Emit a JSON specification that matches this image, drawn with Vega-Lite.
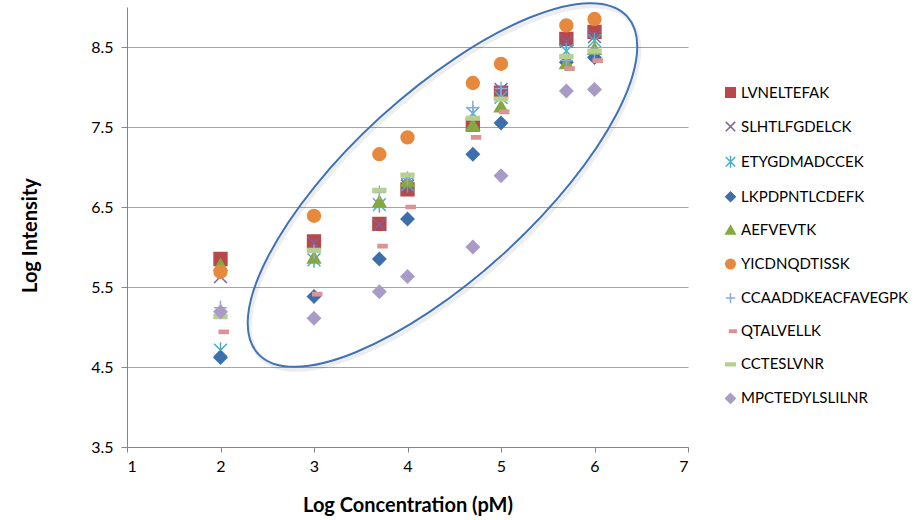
{
  "$schema": "https://vega.github.io/schema/vega-lite/v6.json",
  "width": 561,
  "height": 440,
  "autosize": {"type": "none"},
  "padding": {"left": 127, "top": 7, "right": 231, "bottom": 73},
  "background": "white",
  "config": {"view": {"stroke": null}, "font": "Lato"},
  "datasets": {
    "ellipse": [
      {"i": 1, "x": 6.349, "y": 8.883},
      {"i": 2, "x": 6.452, "y": 8.398},
      {"i": 3, "x": 6.238, "y": 7.665},
      {"i": 4, "x": 5.742, "y": 6.798},
      {"i": 5, "x": 5.037, "y": 5.926},
      {"i": 6, "x": 4.232, "y": 5.185},
      {"i": 7, "x": 3.447, "y": 4.685},
      {"i": 8, "x": 2.803, "y": 4.503},
      {"i": 9, "x": 2.4, "y": 4.668},
      {"i": 10, "x": 2.296, "y": 5.153},
      {"i": 11, "x": 2.51, "y": 5.885},
      {"i": 12, "x": 3.006, "y": 6.753},
      {"i": 13, "x": 3.711, "y": 7.624},
      {"i": 14, "x": 4.517, "y": 8.365},
      {"i": 15, "x": 5.302, "y": 8.865},
      {"i": 16, "x": 5.945, "y": 9.048}
    ],
    "pts": [
      {"peptide": "LVNELTEFAK", "x": 2, "y": 5.85},
      {"peptide": "LVNELTEFAK", "x": 3, "y": 6.07},
      {"peptide": "LVNELTEFAK", "x": 3.699, "y": 6.29},
      {"peptide": "LVNELTEFAK", "x": 4, "y": 6.72},
      {"peptide": "LVNELTEFAK", "x": 4.699, "y": 7.53},
      {"peptide": "LVNELTEFAK", "x": 5, "y": 7.93},
      {"peptide": "LVNELTEFAK", "x": 5.699, "y": 8.6},
      {"peptide": "LVNELTEFAK", "x": 6, "y": 8.69},
      {"peptide": "SLHTLFGDELCK", "x": 2, "y": 5.63},
      {"peptide": "SLHTLFGDELCK", "x": 3, "y": 6.05},
      {"peptide": "SLHTLFGDELCK", "x": 3.699, "y": 6.28},
      {"peptide": "SLHTLFGDELCK", "x": 4, "y": 6.76},
      {"peptide": "SLHTLFGDELCK", "x": 4.699, "y": 7.55},
      {"peptide": "SLHTLFGDELCK", "x": 5, "y": 7.97},
      {"peptide": "SLHTLFGDELCK", "x": 5.699, "y": 8.57},
      {"peptide": "SLHTLFGDELCK", "x": 6, "y": 8.63},
      {"peptide": "ETYGDMADCCEK", "x": 2, "y": 4.71},
      {"peptide": "ETYGDMADCCEK", "x": 3, "y": 5.84},
      {"peptide": "ETYGDMADCCEK", "x": 3.699, "y": 6.53},
      {"peptide": "ETYGDMADCCEK", "x": 4, "y": 6.78},
      {"peptide": "ETYGDMADCCEK", "x": 4.699, "y": 7.67},
      {"peptide": "ETYGDMADCCEK", "x": 5, "y": 7.87},
      {"peptide": "ETYGDMADCCEK", "x": 5.699, "y": 8.45},
      {"peptide": "ETYGDMADCCEK", "x": 6, "y": 8.58},
      {"peptide": "LKPDPNTLCDEFK", "x": 2, "y": 4.62},
      {"peptide": "LKPDPNTLCDEFK", "x": 3, "y": 5.38},
      {"peptide": "LKPDPNTLCDEFK", "x": 3.699, "y": 5.85},
      {"peptide": "LKPDPNTLCDEFK", "x": 4, "y": 6.35},
      {"peptide": "LKPDPNTLCDEFK", "x": 4.699, "y": 7.16},
      {"peptide": "LKPDPNTLCDEFK", "x": 5, "y": 7.55},
      {"peptide": "LKPDPNTLCDEFK", "x": 5.699, "y": 8.31},
      {"peptide": "LKPDPNTLCDEFK", "x": 6, "y": 8.37},
      {"peptide": "AEFVEVTK", "x": 2, "y": 5.78},
      {"peptide": "AEFVEVTK", "x": 3, "y": 5.87},
      {"peptide": "AEFVEVTK", "x": 3.699, "y": 6.57},
      {"peptide": "AEFVEVTK", "x": 4, "y": 6.83},
      {"peptide": "AEFVEVTK", "x": 4.699, "y": 7.53},
      {"peptide": "AEFVEVTK", "x": 5, "y": 7.76},
      {"peptide": "AEFVEVTK", "x": 5.699, "y": 8.3},
      {"peptide": "AEFVEVTK", "x": 6, "y": 8.48},
      {"peptide": "YICDNQDTISSK", "x": 2, "y": 5.69},
      {"peptide": "YICDNQDTISSK", "x": 3, "y": 6.39},
      {"peptide": "YICDNQDTISSK", "x": 3.699, "y": 7.16},
      {"peptide": "YICDNQDTISSK", "x": 4, "y": 7.37},
      {"peptide": "YICDNQDTISSK", "x": 4.699, "y": 8.05},
      {"peptide": "YICDNQDTISSK", "x": 5, "y": 8.29},
      {"peptide": "YICDNQDTISSK", "x": 5.699, "y": 8.77},
      {"peptide": "YICDNQDTISSK", "x": 6, "y": 8.85},
      {"peptide": "CCAADDKEACFAVEGPK", "x": 2, "y": 5.24},
      {"peptide": "CCAADDKEACFAVEGPK", "x": 3, "y": 5.94},
      {"peptide": "CCAADDKEACFAVEGPK", "x": 3.699, "y": 6.68},
      {"peptide": "CCAADDKEACFAVEGPK", "x": 4, "y": 6.86},
      {"peptide": "CCAADDKEACFAVEGPK", "x": 4.699, "y": 7.74},
      {"peptide": "CCAADDKEACFAVEGPK", "x": 5, "y": 7.98},
      {"peptide": "CCAADDKEACFAVEGPK", "x": 5.699, "y": 8.33},
      {"peptide": "CCAADDKEACFAVEGPK", "x": 6, "y": 8.42},
      {"peptide": "QTALVELLK", "x": 2, "y": 4.94},
      {"peptide": "QTALVELLK", "x": 3, "y": 5.41},
      {"peptide": "QTALVELLK", "x": 3.699, "y": 6.01},
      {"peptide": "QTALVELLK", "x": 4, "y": 6.5},
      {"peptide": "QTALVELLK", "x": 4.699, "y": 7.37},
      {"peptide": "QTALVELLK", "x": 5, "y": 7.69},
      {"peptide": "QTALVELLK", "x": 5.699, "y": 8.23},
      {"peptide": "QTALVELLK", "x": 6, "y": 8.33},
      {"peptide": "CCTESLVNR", "x": 2, "y": 5.13},
      {"peptide": "CCTESLVNR", "x": 3, "y": 5.96},
      {"peptide": "CCTESLVNR", "x": 3.699, "y": 6.71},
      {"peptide": "CCTESLVNR", "x": 4, "y": 6.9},
      {"peptide": "CCTESLVNR", "x": 4.699, "y": 7.61},
      {"peptide": "CCTESLVNR", "x": 5, "y": 7.85},
      {"peptide": "CCTESLVNR", "x": 5.699, "y": 8.38},
      {"peptide": "CCTESLVNR", "x": 6, "y": 8.45},
      {"peptide": "MPCTEDYLSLILNR", "x": 2, "y": 5.19},
      {"peptide": "MPCTEDYLSLILNR", "x": 3, "y": 5.11},
      {"peptide": "MPCTEDYLSLILNR", "x": 3.699, "y": 5.44},
      {"peptide": "MPCTEDYLSLILNR", "x": 4, "y": 5.63},
      {"peptide": "MPCTEDYLSLILNR", "x": 4.699, "y": 6.0},
      {"peptide": "MPCTEDYLSLILNR", "x": 5, "y": 6.89},
      {"peptide": "MPCTEDYLSLILNR", "x": 5.699, "y": 7.95},
      {"peptide": "MPCTEDYLSLILNR", "x": 6, "y": 7.97}
    ]
  },
  "layer": [
    {
      "data": {"name": "ellipse"},
      "mark": {"type": "line", "interpolate": "cardinal-closed", "stroke": "#000000", "strokeOpacity": 0.07, "strokeWidth": 4, "xOffset": 2, "yOffset": 3, "clip": false},
      "encoding": {
        "x": {"field": "x", "type": "quantitative", "scale": {"domain": [1, 7], "nice": false, "zero": false}},
        "y": {"field": "y", "type": "quantitative", "scale": {"domain": [3.5, 9], "nice": false, "zero": false}},
        "order": {"field": "i"}
      }
    },
    {
      "data": {"name": "ellipse"},
      "mark": {"type": "line", "interpolate": "cardinal-closed", "stroke": "#3F72BA", "strokeWidth": 2, "clip": false},
      "encoding": {
        "x": {"field": "x", "type": "quantitative"},
        "y": {"field": "y", "type": "quantitative"},
        "order": {"field": "i"}
      }
    },
    {
      "data": {"name": "pts"},
      "mark": {"type": "point", "size": 165, "strokeWidth": 1.5, "opacity": 1},
      "encoding": {
        "x": {
          "field": "x", "type": "quantitative",
          "axis": {
            "title": "Log Concentration (pM)", "values": [1, 2, 3, 4, 5, 6, 7], "format": "d",
            "grid": false, "domainColor": "#868686", "tickColor": "#868686", "tickSize": 5,
            "labelFontSize": 16, "labelColor": "#000000", "labelPadding": 6,
            "titleFontSize": 20, "titleFontWeight": "bold", "titleColor": "#000000", "titlePadding": 21
          }
        },
        "y": {
          "field": "y", "type": "quantitative",
          "axis": {
            "title": "Log Intensity", "values": [3.5, 4.5, 5.5, 6.5, 7.5, 8.5], "format": ".1f",
            "grid": true, "gridColor": "#a6a6a6", "domainColor": "#868686", "tickColor": "#868686", "tickSize": 6,
            "labelFontSize": 16, "labelColor": "#000000", "labelPadding": 8,
            "titleFontSize": 20, "titleFontWeight": "bold", "titleColor": "#000000",
            "titleX": -97, "titleY": 228, "titleBaseline": "middle"
          }
        },
        "shape": {
          "field": "peptide", "type": "nominal",
          "scale": {
            "domain": ["LVNELTEFAK", "SLHTLFGDELCK", "ETYGDMADCCEK", "LKPDPNTLCDEFK", "AEFVEVTK", "YICDNQDTISSK", "CCAADDKEACFAVEGPK", "QTALVELLK", "CCTESLVNR", "MPCTEDYLSLILNR"],
            "range": ["square", "M-1,-1L1,1M-1,1L1,-1", "M-1,-1L1,1M-1,1L1,-1M0,-1.25L0,1.25", "diamond", "triangle-up", "circle", "M-1,0L1,0M0,-1.1L0,1.1", "M-0.2,-0.25L1.2,-0.25L1.2,0.25L-0.2,0.25Z", "M-1,-0.28L1,-0.28L1,0.28L-1,0.28Z", "diamond"]
          },
          "legend": {
            "title": null, "orient": "none", "legendX": 596, "legendY": 78,
            "labelFontSize": 15, "labelColor": "#000000", "labelFont": "Lato", "labelLimit": 0,
            "symbolSize": 90, "symbolStrokeWidth": 1.5, "rowPadding": 17.1, "labelOffset": 3
          }
        },
        "fill": {
          "field": "peptide", "type": "nominal",
          "scale": {
            "domain": ["LVNELTEFAK", "SLHTLFGDELCK", "ETYGDMADCCEK", "LKPDPNTLCDEFK", "AEFVEVTK", "YICDNQDTISSK", "CCAADDKEACFAVEGPK", "QTALVELLK", "CCTESLVNR", "MPCTEDYLSLILNR"],
            "range": ["#B8484A", "transparent", "transparent", "#3D6FAE", "#86A840", "#E6893C", "transparent", "#DB9393", "#B7D08F", "#A99BC6"]
          },
          "legend": {
            "title": null, "orient": "none", "legendX": 596, "legendY": 78,
            "labelFontSize": 15, "labelColor": "#000000", "labelFont": "Lato", "labelLimit": 0,
            "symbolSize": 90, "symbolStrokeWidth": 1.5, "rowPadding": 17.1, "labelOffset": 3
          }
        },
        "stroke": {
          "field": "peptide", "type": "nominal",
          "scale": {
            "domain": ["LVNELTEFAK", "SLHTLFGDELCK", "ETYGDMADCCEK", "LKPDPNTLCDEFK", "AEFVEVTK", "YICDNQDTISSK", "CCAADDKEACFAVEGPK", "QTALVELLK", "CCTESLVNR", "MPCTEDYLSLILNR"],
            "range": ["#B8484A", "#7E62A3", "#4AAEC8", "#3D6FAE", "#86A840", "#E6893C", "#8EA9DB", "#DB9393", "#B7D08F", "#A99BC6"]
          },
          "legend": {
            "title": null, "orient": "none", "legendX": 596, "legendY": 78,
            "labelFontSize": 15, "labelColor": "#000000", "labelFont": "Lato", "labelLimit": 0,
            "symbolSize": 90, "symbolStrokeWidth": 1.5, "rowPadding": 17.1, "labelOffset": 3
          }
        }
      }
    }
  ]
}
